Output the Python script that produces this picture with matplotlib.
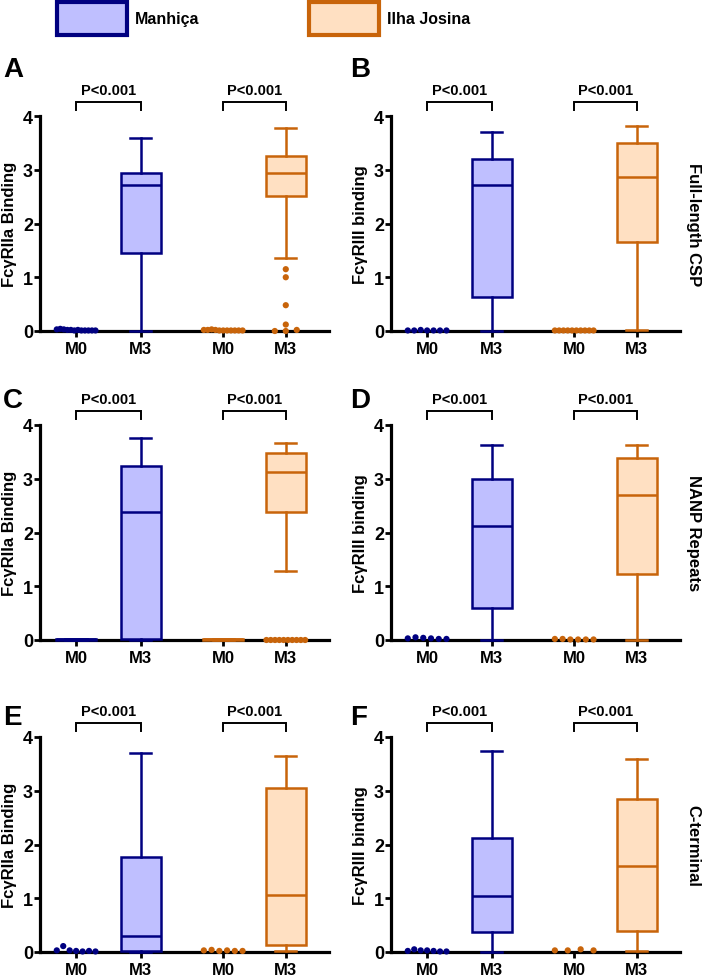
import numpy as np
import matplotlib
matplotlib.use("Agg")
import matplotlib.pyplot as plt
import matplotlib.patches as mpatches
from matplotlib import font_manager

plt.rcParams['font.family'] = ['Liberation Sans', 'DejaVu Sans']
plt.rcParams['font.weight'] = 'bold'
plt.rcParams['axes.labelweight'] = 'bold'

# categories / labels
panels = ["A", "B", "C", "D", "E", "F"]
sites = ["Manhiça", "Ilha Josina"]
timepoints = ["M0", "M3", "M0", "M3"]
ylabels = ["FcγRIIa Binding", "FcγRIII binding"]
row_labels = ["Full-length CSP", "NANP Repeats", "C-terminal"]
p_text = "P<0.001"

# M3 box summaries: [whisker low, Q1, median, Q3, whisker high]
m3_manhica = {
    "A": [0.0, 1.45, 2.72, 2.94, 3.59],
    "B": [0.0, 0.63, 2.72, 3.20, 3.70],
    "C": [0.0, 0.02, 2.38, 3.23, 3.76],
    "D": [0.0, 0.60, 2.12, 3.00, 3.62],
    "E": [0.0, 0.02, 0.30, 1.77, 3.70],
    "F": [0.0, 0.37, 1.04, 2.12, 3.74],
}
m3_ilha = {
    "A": [1.36, 2.51, 2.94, 3.26, 3.78],
    "B": [0.01, 1.66, 2.87, 3.50, 3.81],
    "C": [1.28, 2.38, 3.12, 3.47, 3.66],
    "D": [0.0, 1.22, 2.69, 3.38, 3.62],
    "E": [0.02, 0.13, 1.06, 3.05, 3.65],
    "F": [0.02, 0.39, 1.60, 2.85, 3.59],
}
# M3 outlier points
m3_outliers_ilha = {
    "A": [1.15, 1.00, 0.48, 0.12, 0.02, 0.0, 0.0],
    "C": [0.0, 0.0, 0.0, 0.0, 0.0, 0.0, 0.0, 0.0, 0.0, 0.0],
}

# M0 individual values (near zero)
m0_manhica = {
    "A": [0.03, 0.04, 0.03, 0.02, 0.02, 0.01, 0.02, 0.01, 0.01, 0.01, 0.01, 0.01],
    "B": [0.01, 0.01, 0.02, 0.01, 0.01, 0.01, 0.01],
    "D": [0.03, 0.05, 0.04, 0.03, 0.02, 0.02],
    "E": [0.03, 0.11, 0.03, 0.02, 0.01, 0.02, 0.01],
    "F": [0.02, 0.05, 0.03, 0.03, 0.02, 0.01, 0.01],
}
m0_ilha = {
    "A": [0.02, 0.02, 0.03, 0.02, 0.01, 0.01, 0.01, 0.01, 0.01, 0.01, 0.01],
    "B": [0.01, 0.01, 0.01, 0.01, 0.01, 0.01, 0.01, 0.01, 0.01, 0.01],
    "D": [0.02, 0.02, 0.01, 0.01, 0.01, 0.01],
    "E": [0.03, 0.04, 0.02, 0.03, 0.02, 0.02],
    "F": [0.03, 0.03, 0.05, 0.03],
}
# M0 summaries in panel C (collapsed boxes)
m0_box_c = {
    "Manhiça": [0.0, 0.0, 0.01, 0.02, 0.02],
    "Ilha Josina": [0.0, 0.0, 0.01, 0.02, 0.02],
}

edge_colors = {"Manhiça": "#000080", "Ilha Josina": "#C8640A"}
fill_colors = {"Manhiça": "#BFBFFF", "Ilha Josina": "#FFE0C2"}

positions = [0, 1, 2.28, 3.25]
W, H = 712, 978


def spread(values, max_width=0.6, step=0.17):
    """horizontal offsets for points sharing (nearly) the same value"""
    values = np.asarray(values, dtype=float)
    offsets = np.zeros(len(values))
    groups = []
    for i in np.argsort(values, kind="stable"):
        if groups and values[i] - values[groups[-1][-1]] < 0.05:
            groups[-1].append(i)
        else:
            groups.append([i])
    for g in groups:
        k = len(g)
        if k > 1:
            w = min(max_width, step * (k - 1))
            offsets[g] = np.linspace(-w / 2, w / 2, k)
    return offsets


def draw_box(ax, summary, pos, site):
    lo, q1, med, q3, hi = summary
    stats = [dict(whislo=lo, q1=q1, med=med, q3=q3, whishi=hi, fliers=[])]
    lw = 1.8
    arts = ax.bxp(stats, positions=[pos], widths=0.62, capwidths=0.33,
                  patch_artist=True, showfliers=False, manage_ticks=False,
                  boxprops=dict(facecolor=fill_colors[site], edgecolor=edge_colors[site], linewidth=lw),
                  medianprops=dict(color=edge_colors[site], linewidth=lw),
                  whiskerprops=dict(color=edge_colors[site], linewidth=lw),
                  capprops=dict(color=edge_colors[site], linewidth=lw))
    for group in arts.values():
        for a in group:
            a.set_clip_on(False)
            a.set_zorder(3)


def draw_points(ax, values, pos, site, offsets):
    ax.scatter(pos + offsets, values, s=20, color=edge_colors[site],
               edgecolors="none", clip_on=False, zorder=5)


fig = plt.figure(figsize=(W / 100, H / 100), dpi=100)

lefts = [40, 391]
bottoms = [332, 641, 953]
ax_w, ax_h = 289, 215
letter_x = [3, 350]
letter_y = [57, 388, 705]

for idx, panel in enumerate(panels):
    row, col = divmod(idx, 2)
    ax = fig.add_axes([lefts[col] / W, 1 - bottoms[row] / H, ax_w / W, ax_h / H])

    # M0
    if panel == "C":
        draw_box(ax, m0_box_c["Manhiça"], positions[0], "Manhiça")
        draw_box(ax, m0_box_c["Ilha Josina"], positions[2], "Ilha Josina")
    else:
        v = m0_manhica[panel]
        draw_points(ax, v, positions[0], "Manhiça", np.linspace(-0.3, 0.3, len(v)))
        v = m0_ilha[panel]
        draw_points(ax, v, positions[2], "Ilha Josina", np.linspace(-0.3, 0.3, len(v)))

    # M3
    draw_box(ax, m3_manhica[panel], positions[1], "Manhiça")
    draw_box(ax, m3_ilha[panel], positions[3], "Ilha Josina")
    if panel in m3_outliers_ilha:
        v = m3_outliers_ilha[panel]
        draw_points(ax, v, positions[3], "Ilha Josina", spread(v))

    # significance brackets
    for a, b in [(positions[0], positions[1]), (positions[2], positions[3])]:
        ax.plot([a, a, b, b], [4.12, 4.26, 4.26, 4.12], color="black", lw=1.4,
                clip_on=False, solid_joinstyle="miter")
        ax.text((a + b) / 2, 4.36, p_text, ha="center", va="bottom", fontsize=10.5)

    ax.set_ylim(0, 4)
    ax.set_xlim(-0.56, 3.92)
    ax.set_yticks([0, 1, 2, 3, 4])
    ax.set_xticks(positions)
    ax.set_xticklabels(timepoints, fontsize=12)
    ax.tick_params(axis="y", labelsize=13, length=4, width=2, pad=1, direction="out")
    ax.tick_params(axis="x", length=4, width=2, pad=3, direction="out")
    for s in ["top", "right"]:
        ax.spines[s].set_visible(False)
    for s in ["left", "bottom"]:
        ax.spines[s].set_linewidth(2.3)
    ax.set_ylabel(ylabels[col], fontsize=12, fontweight="bold")
    ax.yaxis.set_label_coords(-0.078, 0.5)
    if col == 1:
        ax.text(1.045, 0.5, row_labels[row], transform=ax.transAxes, rotation=270,
                ha="center", va="center", fontsize=12)

    fig.text(letter_x[col] / W, 1 - letter_y[row] / H, panel, ha="left", va="top",
             fontsize=20)

# legend font: narrow face if present
avail = {f.name for f in font_manager.fontManager.ttflist}
narrow = 'Liberation Sans Narrow' in avail
leg_family = ['Liberation Sans Narrow'] if narrow else ['Liberation Sans']
leg_size = 13 if narrow else 11.5

handles = [mpatches.Patch(facecolor=fill_colors[s], edgecolor=edge_colors[s], linewidth=3,
                          joinstyle="round") for s in sites]
fs_px = leg_size * 100 / 72
text_w = 4.0 * fs_px * (0.82 if narrow else 1.0)
# legend handle height = fs*(0.65*hh + 0.245)
hh = (33 / fs_px - 0.245) / 0.65
fig.legend(handles, sites, loc="upper left", bbox_to_anchor=(57 / W, 1 - 3 / H),
           ncol=2, frameon=False, borderpad=0, borderaxespad=0,
           handlelength=70 / fs_px, handleheight=hh, handletextpad=8 / fs_px,
           columnspacing=(308 - 135 - text_w) / fs_px,
           prop=dict(family=leg_family, weight="bold", size=leg_size))

fig.savefig("out.png", dpi=100)
